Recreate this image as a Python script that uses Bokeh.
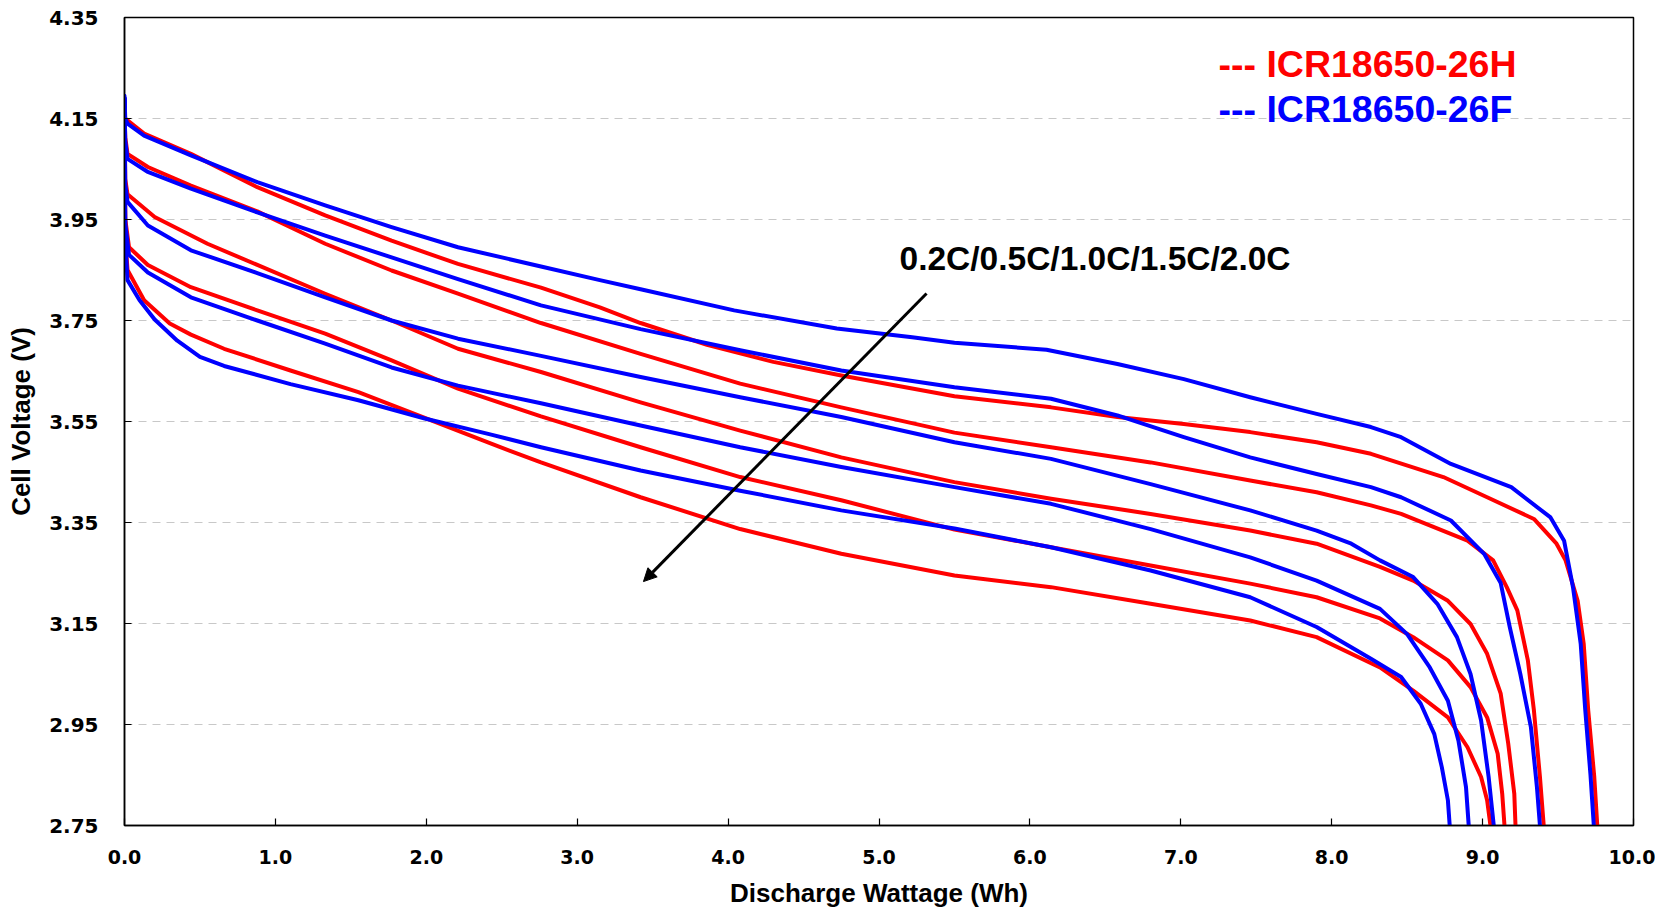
from bokeh.plotting import figure
from bokeh.models import (FixedTicker, PrintfTickFormatter, Label, Arrow,
                          NormalHead, Range1d)
from bokeh.embed import file_html
from bokeh.resources import INLINE

# ---------------- data ----------------
X_TICKS = [0, 1, 2, 3, 4, 5, 6, 7, 8, 9, 10]
Y_TICKS = [2.75, 2.95, 3.15, 3.35, 3.55, 3.75, 3.95, 4.15, 4.35]

# ICR18650-26H (red)
h02_x = [0.0, 0.005, 0.13, 0.44, 0.88, 1.33, 1.77, 2.21, 2.76, 3.15, 3.42, 3.86, 4.30, 4.75, 5.5, 6.14, 6.58, 7.02, 7.46, 7.90, 8.26, 8.74, 9.03, 9.34, 9.49, 9.55, 9.63, 9.67, 9.70, 9.74, 9.76]
h02_v = [4.156, 4.15, 4.12, 4.08, 4.014, 3.958, 3.908, 3.862, 3.815, 3.776, 3.745, 3.702, 3.668, 3.641, 3.60, 3.578, 3.559, 3.545, 3.529, 3.509, 3.486, 3.44, 3.40, 3.357, 3.308, 3.275, 3.195, 3.11, 2.978, 2.846, 2.75]

h05_x = [0.0, 0.005, 0.02, 0.155, 0.44, 0.88, 1.33, 1.77, 2.21, 2.76, 3.42, 4.08, 4.75, 5.5, 6.14, 6.80, 7.46, 7.90, 8.26, 8.46, 8.90, 9.07, 9.16, 9.23, 9.30, 9.34, 9.38, 9.405]
h05_v = [4.155, 4.113, 4.08, 4.054, 4.017, 3.966, 3.902, 3.849, 3.803, 3.745, 3.684, 3.625, 3.578, 3.528, 3.499, 3.469, 3.433, 3.41, 3.384, 3.367, 3.314, 3.275, 3.222, 3.176, 3.077, 2.978, 2.846, 2.75]

h10_x = [0.0, 0.005, 0.02, 0.2, 0.55, 0.88, 1.33, 1.77, 2.21, 2.76, 3.42, 4.08, 4.75, 5.5, 6.14, 6.80, 7.46, 7.90, 8.32, 8.54, 8.77, 8.92, 9.03, 9.12, 9.17, 9.21, 9.218]
h10_v = [4.155, 4.03, 4.0, 3.955, 3.902, 3.86, 3.803, 3.75, 3.694, 3.648, 3.588, 3.532, 3.479, 3.43, 3.397, 3.367, 3.334, 3.308, 3.262, 3.235, 3.195, 3.149, 3.09, 3.011, 2.912, 2.813, 2.75]

h15_x = [0.0, 0.005, 0.03, 0.155, 0.44, 0.88, 1.33, 1.77, 2.21, 2.76, 3.42, 4.08, 4.75, 5.5, 6.14, 6.80, 7.46, 7.90, 8.32, 8.54, 8.77, 8.92, 9.03, 9.10, 9.13, 9.145]
h15_v = [4.155, 3.951, 3.895, 3.86, 3.816, 3.77, 3.724, 3.671, 3.615, 3.56, 3.499, 3.44, 3.394, 3.336, 3.301, 3.265, 3.229, 3.202, 3.16, 3.123, 3.077, 3.024, 2.964, 2.892, 2.813, 2.75]

h20_x = [0.0, 0.005, 0.02, 0.13, 0.3, 0.44, 0.66, 1.10, 1.55, 1.99, 2.43, 2.76, 3.42, 4.08, 4.75, 5.5, 6.14, 6.80, 7.46, 7.90, 8.32, 8.54, 8.77, 8.90, 8.99, 9.03, 9.052]
h20_v = [4.155, 3.915, 3.85, 3.79, 3.744, 3.722, 3.694, 3.651, 3.608, 3.557, 3.506, 3.469, 3.40, 3.337, 3.288, 3.245, 3.222, 3.189, 3.156, 3.123, 3.063, 3.017, 2.964, 2.905, 2.846, 2.80, 2.75]

# ICR18650-26F (blue)
f02_x = [0.0, 0.005, 0.02, 0.13, 0.44, 0.88, 1.33, 1.77, 2.21, 2.76, 3.15, 3.42, 4.04, 4.72, 5.22, 5.5, 6.11, 6.58, 7.02, 7.46, 7.90, 8.26, 8.46, 8.79, 9.19, 9.45, 9.54, 9.60, 9.65, 9.68, 9.715, 9.737]
f02_v = [4.195, 4.15, 4.14, 4.116, 4.077, 4.024, 3.978, 3.935, 3.895, 3.857, 3.83, 3.812, 3.77, 3.734, 3.717, 3.706, 3.692, 3.664, 3.634, 3.598, 3.565, 3.539, 3.519, 3.466, 3.42, 3.36, 3.314, 3.22, 3.11, 2.98, 2.85, 2.75]

f05_x = [0.0, 0.005, 0.02, 0.15, 0.44, 0.88, 1.33, 1.77, 2.21, 2.76, 3.42, 4.08, 4.75, 5.5, 6.14, 6.58, 7.02, 7.46, 7.90, 8.26, 8.46, 8.79, 9.01, 9.12, 9.18, 9.25, 9.32, 9.36, 9.38]
f05_v = [4.19, 4.106, 4.07, 4.045, 4.011, 3.964, 3.918, 3.875, 3.832, 3.78, 3.733, 3.691, 3.651, 3.618, 3.595, 3.562, 3.519, 3.479, 3.446, 3.42, 3.40, 3.354, 3.288, 3.23, 3.143, 3.05, 2.945, 2.826, 2.75]

f10_x = [0.0, 0.005, 0.02, 0.155, 0.44, 0.88, 1.33, 1.77, 2.21, 2.76, 3.42, 4.08, 4.75, 5.5, 6.14, 6.80, 7.46, 7.90, 8.13, 8.32, 8.54, 8.70, 8.83, 8.92, 8.99, 9.04, 9.074]
f10_v = [4.19, 4.02, 3.985, 3.938, 3.889, 3.844, 3.796, 3.75, 3.714, 3.68, 3.638, 3.598, 3.559, 3.509, 3.476, 3.426, 3.374, 3.334, 3.308, 3.275, 3.242, 3.189, 3.123, 3.05, 2.958, 2.846, 2.75]

f15_x = [0.0, 0.005, 0.03, 0.155, 0.44, 0.88, 1.33, 1.77, 2.21, 2.76, 3.42, 4.08, 4.75, 5.5, 6.14, 6.80, 7.46, 7.90, 8.32, 8.50, 8.65, 8.77, 8.84, 8.89, 8.908]
f15_v = [4.19, 3.941, 3.88, 3.845, 3.796, 3.75, 3.704, 3.657, 3.621, 3.586, 3.542, 3.499, 3.46, 3.42, 3.387, 3.337, 3.281, 3.235, 3.179, 3.129, 3.063, 2.997, 2.918, 2.826, 2.75]

f20_x = [0.0, 0.005, 0.02, 0.1, 0.2, 0.35, 0.5, 0.66, 1.10, 1.55, 1.99, 2.43, 2.76, 3.42, 4.08, 4.75, 5.5, 6.14, 6.80, 7.46, 7.90, 8.26, 8.46, 8.59, 8.68, 8.73, 8.77, 8.782]
f20_v = [4.19, 3.908, 3.83, 3.79, 3.752, 3.71, 3.678, 3.66, 3.624, 3.592, 3.556, 3.524, 3.499, 3.453, 3.413, 3.374, 3.338, 3.301, 3.255, 3.202, 3.143, 3.08, 3.044, 2.991, 2.931, 2.865, 2.80, 2.75]

SERIES_H = [(h02_x, h02_v), (h05_x, h05_v), (h10_x, h10_v), (h15_x, h15_v), (h20_x, h20_v)]
SERIES_F = [(f02_x, f02_v), (f05_x, f05_v), (f10_x, f10_v), (f15_x, f15_v), (f20_x, f20_v)]

LEGEND_H = "--- ICR18650-26H"
LEGEND_F = "--- ICR18650-26F"
RATE_TEXT = "0.2C/0.5C/1.0C/1.5C/2.0C"
X_TITLE = "Discharge Wattage (Wh)"
Y_TITLE = "Cell Voltage (V)"

# annotation anchors (data units)
legend_x = 7.25
legend_h_y = 4.258
legend_f_y = 4.168
rate_x, rate_y = 5.136, 3.873
arrow_x0, arrow_y0 = 5.315, 3.8035
arrow_x1, arrow_y1 = 3.439, 3.233

RED = "#ff0000"
BLUE = "#0000ff"

# ---------------- figure ----------------
p = figure(frame_width=1509, frame_height=808,
           x_range=Range1d(0, 10), y_range=Range1d(2.75, 4.35),
           output_backend="svg", toolbar_location=None,
           min_border_left=124, min_border_right=22,
           min_border_top=17, min_border_bottom=79,
           background_fill_color="white", border_fill_color="white")

p.outline_line_color = "black"
p.outline_line_width = 1.5
p.outline_line_alpha = 1.0

p.xgrid.visible = False
p.ygrid.grid_line_color = "#c8c8c8"
p.ygrid.grid_line_dash = "8 6"
p.ygrid.grid_line_width = 1

p.xaxis.ticker = FixedTicker(ticks=X_TICKS)
p.yaxis.ticker = FixedTicker(ticks=Y_TICKS)
p.xaxis.formatter = PrintfTickFormatter(format="%.1f")
p.yaxis.formatter = PrintfTickFormatter(format="%.2f")

for ax in (p.xaxis, p.yaxis):
    ax.axis_line_color = "black"
    ax.axis_line_width = 1.5
    ax.major_tick_in = 7
    ax.major_tick_out = 0
    ax.major_tick_line_color = "black"
    ax.major_tick_line_width = 1.2
    ax.minor_tick_line_color = None
    ax.major_label_text_font = "DejaVu Sans"
    ax.major_label_text_font_style = "bold"
    ax.major_label_text_font_size = "19px"
    ax.major_label_text_color = "black"
    ax.axis_label_text_font = "Liberation Sans"
    ax.axis_label_text_font_style = "bold"
    ax.axis_label_text_font_size = "26px"
    ax.axis_label_text_color = "black"

p.yaxis.major_label_text_font_size = "20px"
p.xaxis.axis_label = X_TITLE
p.yaxis.axis_label = Y_TITLE
p.xaxis.major_label_standoff = 24
p.xaxis.axis_label_standoff = 11
p.yaxis.major_label_standoff = 26
p.yaxis.axis_label_standoff = 10

for xs, vs in SERIES_H:
    p.line(xs, vs, line_color=RED, line_width=4, line_join="round", line_cap="round")
for xs, vs in SERIES_F:
    p.line(xs, vs, line_color=BLUE, line_width=4, line_join="round", line_cap="round")

p.add_layout(Label(x=legend_x, y=legend_h_y, text=LEGEND_H, text_color=RED,
                   text_font="Liberation Sans", text_font_style="bold",
                   text_font_size="37.5px", text_align="left", text_baseline="middle"))
p.add_layout(Label(x=legend_x, y=legend_f_y, text=LEGEND_F, text_color=BLUE,
                   text_font="Liberation Sans", text_font_style="bold",
                   text_font_size="37.5px", text_align="left", text_baseline="middle"))
p.add_layout(Label(x=rate_x, y=rate_y, text=RATE_TEXT, text_color="black",
                   text_font="Liberation Sans", text_font_style="bold",
                   text_font_size="33.5px", text_align="left", text_baseline="middle"))

p.add_layout(Arrow(end=NormalHead(size=13, fill_color="black", line_color="black", line_width=1),
                   x_start=arrow_x0, y_start=arrow_y0, x_end=arrow_x1, y_end=arrow_y1,
                   line_color="black", line_width=3))

open("out.html", "w").write(file_html(p, INLINE))
